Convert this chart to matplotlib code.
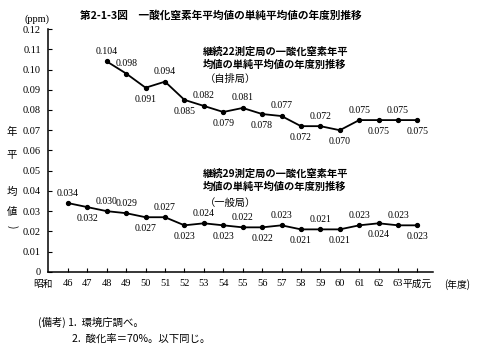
import matplotlib
matplotlib.use('Agg')
import matplotlib.pyplot as plt
import matplotlib.transforms as mtransforms
import numpy as np

plt.rcParams['font.family'] = ['Noto Sans CJK JP', 'DejaVu Sans']

# fiscal years (Showa 46 .. Heisei 1)
years = ['46', '47', '48', '49', '50', '51', '52', '53', '54', '55',
         '56', '57', '58', '59', '60', '61', '62', '63', '平成元']

# roadside stations (自排局), start at Showa 48
road_vals = [0.104, 0.098, 0.091, 0.094, 0.085, 0.082, 0.079, 0.081, 0.078,
             0.077, 0.072, 0.072, 0.070, 0.075, 0.075, 0.075, 0.075]
road_pos = ['a', 'a', 'b', 'a', 'b', 'a', 'b', 'a', 'b',
            'a', 'b', 'a', 'b', 'a', 'b', 'a', 'b']

# general stations (一般局)
gen_vals = [0.034, 0.032, 0.030, 0.029, 0.027, 0.027, 0.023, 0.024, 0.023,
            0.022, 0.022, 0.023, 0.021, 0.021, 0.021, 0.023, 0.024, 0.023, 0.023]
gen_pos = ['a', 'b', 'a', 'a', 'b', 'a', 'b', 'a', 'b',
           'a', 'b', 'a', 'b', 'a', 'b', 'a', 'b', 'a', 'b']

num_font = 'Liberation Serif'

fig = plt.figure(figsize=(4.79, 3.54), dpi=100)
ax = fig.add_axes([0.100, 0.232, 0.804, 0.686])

x_all = np.arange(len(years))
x_road = x_all[len(years) - len(road_vals):]

def draw_series(xs, vals, pos):
    ax.plot(xs, vals, color='black', lw=1.3, marker='o', ms=2.8, zorder=3)
    for x, v, p in zip(xs, vals, pos):
        dy = 4 if p == 'a' else -5
        va = 'bottom' if p == 'a' else 'top'
        ax.annotate(f'{v:.3f}', (x, v), xytext=(0, dy), textcoords='offset points',
                    ha='center', va=va, fontsize=7, family=num_font)

draw_series(x_road, road_vals, road_pos)
draw_series(x_all, gen_vals, gen_pos)

ax.set_xlim(-1.03, 18.8)
ax.set_ylim(0, 0.12)
ax.spines['top'].set_visible(False)
ax.spines['right'].set_visible(False)
ax.spines['left'].set_linewidth(1.1)
ax.spines['bottom'].set_linewidth(1.1)

yt = np.arange(0, 0.121, 0.01)
ax.set_yticks(yt)
ax.set_yticklabels(['0'] + [f'{v:.2f}' for v in yt[1:]], family=num_font, fontsize=7.5)
ax.set_xticks(x_all)
ax.set_xticklabels(years, fontsize=7.5)
xlabs = ax.get_xticklabels()
for lab in xlabs[:-1]:
    lab.set_family(num_font)
xlabs[-1].set_fontsize(7)
xlabs[-1].set_transform(xlabs[-1].get_transform() +
                        mtransforms.ScaledTranslation(4 / 100, 0, fig.dpi_scale_trans))
ax.tick_params(axis='both', direction='in', length=3, width=0.8, pad=5)

# labels around the axes
fig.text(0.052, 0.945, '(ppm)', fontsize=7.5, family=num_font, va='center')
fig.text(0.090, 0.197, '昭和', fontsize=7, ha='center', va='center')
fig.text(0.955, 0.197, '(年度)', fontsize=7, ha='center', va='center')
for ch, y in zip(['年', '平', '均', '値'], [0.627, 0.562, 0.458, 0.401]):
    fig.text(0.025, y, ch, fontsize=7.5, ha='center', va='center')
fig.text(0.025, 0.359, ')', fontsize=7.5, ha='center', va='center', rotation=-90)

fig.text(0.167, 0.957, '第2-1-3図　一酸化窒素年平均値の単純平均値の年度別推移',
         fontsize=7.7, fontweight='bold', va='center')

fig.text(0.424, 0.835, '継続22測定局の一酸化窒素年平\n均値の単純平均値の年度別推移',
         fontsize=7.4, fontweight='bold', va='center', linespacing=1.35)
fig.text(0.428, 0.777, '（自排局）', fontsize=7.4, va='center')
fig.text(0.424, 0.491, '継続29測定局の一酸化窒素年平\n均値の単純平均値の年度別推移',
         fontsize=7.4, fontweight='bold', va='center', linespacing=1.35)
fig.text(0.428, 0.427, '（一般局）', fontsize=7.4, va='center')

fig.text(0.080, 0.090, '(備考) 1.  環境庁調べ。', fontsize=7.5, va='center')
fig.text(0.150, 0.042, '2.  酸化率＝70%。以下同じ。', fontsize=7.5, va='center')

fig.savefig('out.png', dpi=100)
